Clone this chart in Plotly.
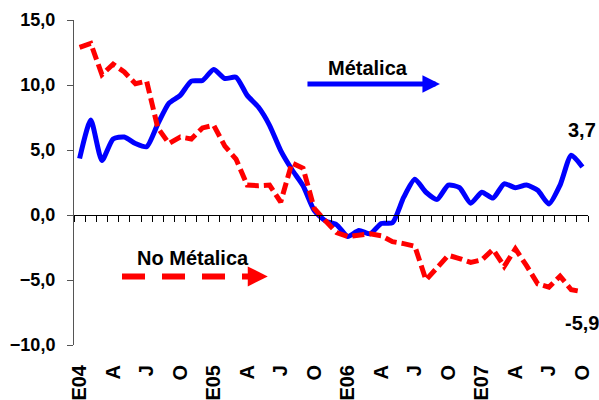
import plotly.graph_objects as go

# ---- data ----
month_labels = ["E04", "F", "M", "A", "M", "J", "J", "A", "S", "O", "N", "D",
                "E05", "F", "M", "A", "M", "J", "J", "A", "S", "O", "N", "D",
                "E06", "F", "M", "A", "M", "J", "J", "A", "S", "O", "N", "D",
                "E07", "F", "M", "A", "M", "J", "J", "A", "S", "O"]

metalica = [4.35, 7.3, 4.2, 5.85, 6.0, 5.5, 5.25, 7.0, 8.6, 9.2, 10.3, 10.35,
            11.2, 10.5, 10.6, 9.2, 8.3, 6.9, 4.95, 3.5, 2.25, 0.35, -0.45, -0.75,
            -1.65, -1.2, -1.45, -0.65, -0.6, 1.35, 2.75, 1.75, 1.2, 2.3, 2.1, 0.9,
            1.75, 1.3, 2.4, 2.1, 2.3, 1.9, 0.85, 2.3, 4.6, 3.7]

no_metalica = [12.9, 13.2, 10.8, 11.6, 11.0, 10.1, 10.3, 6.7, 5.5, 6.0, 5.85, 6.7,
               6.9, 5.3, 4.3, 2.3, 2.25, 2.3, 1.0, 4.0, 3.6, 0.5, -0.45, -1.35,
               -1.65, -1.55, -1.45, -1.6, -2.05, -2.2, -2.4, -5.0, -4.1, -3.1, -3.35, -3.65,
               -3.45, -2.65, -3.95, -2.6, -3.9, -5.3, -5.55, -4.7, -5.75, -5.9]

label_step = 3
y_min, y_max, y_step = -10, 15, 5

# ---- figure ----
x = list(range(len(month_labels)))
tickvals = x[::label_step]
ticktext = month_labels[::label_step]
bounds = [i - 0.5 for i in range(len(month_labels) + 1)]
font_family = "Liberation Sans, Arial, sans-serif"

fig = go.Figure()
fig.add_trace(go.Scatter(x=x, y=metalica, mode="lines", name="Métalica",
                         line=dict(color="#0000FF", width=5, shape="spline", smoothing=0.6),
                         hoverinfo="skip"))
fig.add_trace(go.Scatter(x=x, y=no_metalica, mode="lines", name="No Métalica",
                         line=dict(color="#FF0000", width=5, dash="12px,5px"),
                         hoverinfo="skip"))
# helper trace so that the zero-crossing axis (x2) is drawn
fig.add_trace(go.Scatter(x=[x[0]], y=[0], xaxis="x2", mode="none", hoverinfo="skip",
                         showlegend=False))

def fmt(v):
    return f"{v:.1f}".replace(".", ",")

zero_pos = (0 - y_min) / (y_max - y_min)

fig.update_layout(
    template="none",
    width=599, height=400,
    margin=dict(l=74, r=11, t=20, b=55),
    paper_bgcolor="white", plot_bgcolor="white",
    showlegend=False,
    separators=",.",
    font=dict(family=font_family, color="black"),
    xaxis=dict(range=[bounds[0], bounds[-1]], tickvals=tickvals, ticktext=ticktext,
               tickangle=-90, ticks="", showline=False, showgrid=False, zeroline=False,
               ticklabelstandoff=15, automargin=False,
               tickfont=dict(family=font_family, size=20, color="black", weight="bold")),
    xaxis2=dict(range=[bounds[0], bounds[-1]], overlaying="x", anchor="free",
                position=zero_pos, side="bottom", tickvals=bounds, ticks="outside",
                ticklen=6, tickcolor="black", showline=True, linecolor="black", linewidth=1,
                showticklabels=False, showgrid=False, zeroline=False, automargin=False),
    yaxis=dict(range=[y_min, y_max], tick0=0, dtick=y_step, tickformat=".1f",
               showgrid=False, zeroline=False, showline=True, linecolor="#555555",
               linewidth=1, ticks="outside", ticklen=6, tickcolor="#555555",
               ticklabelstandoff=8, automargin=False,
               tickfont=dict(family=font_family, size=18, color="black", weight="bold")),
)

ann_font = dict(family=font_family, size=20, color="black", weight="bold")
anns = [
    dict(text="Métalica", xref="paper", yref="paper", x=0.572, y=0.852,
         xanchor="center", yanchor="middle", showarrow=False, font=ann_font),
    dict(text="", xref="paper", yref="paper", x=0.712, y=0.803, ax=-134, ay=0,
         showarrow=True, arrowhead=2, arrowwidth=5, arrowsize=0.7, arrowcolor="#0000FF"),
    dict(text="No Métalica", xref="paper", yref="paper", x=0.2315, y=0.2666,
         xanchor="center", yanchor="middle", showarrow=False, font=ann_font),
    dict(text="", xref="paper", yref="paper", x=0.377, y=0.211, ax=-22, ay=0,
         showarrow=True, arrowhead=2, arrowwidth=5, arrowsize=0.8, arrowcolor="#FF0000"),
    dict(text=fmt(metalica[-1]), x=x[-1], y=metalica[-1], yshift=37, showarrow=False,
         xanchor="center", yanchor="middle", font=ann_font),
    dict(text=fmt(no_metalica[-1]), x=x[-1], y=no_metalica[-1], yshift=-31, showarrow=False,
         xanchor="center", yanchor="middle", font=ann_font),
]
fig.update_layout(annotations=anns)
fig.add_shape(type="line", xref="paper", yref="paper", x0=0.0934, x1=0.35, y0=0.211, y1=0.211,
              line=dict(color="#FF0000", width=6, dash="23px,17px"))

fig.write_html("out.html")
